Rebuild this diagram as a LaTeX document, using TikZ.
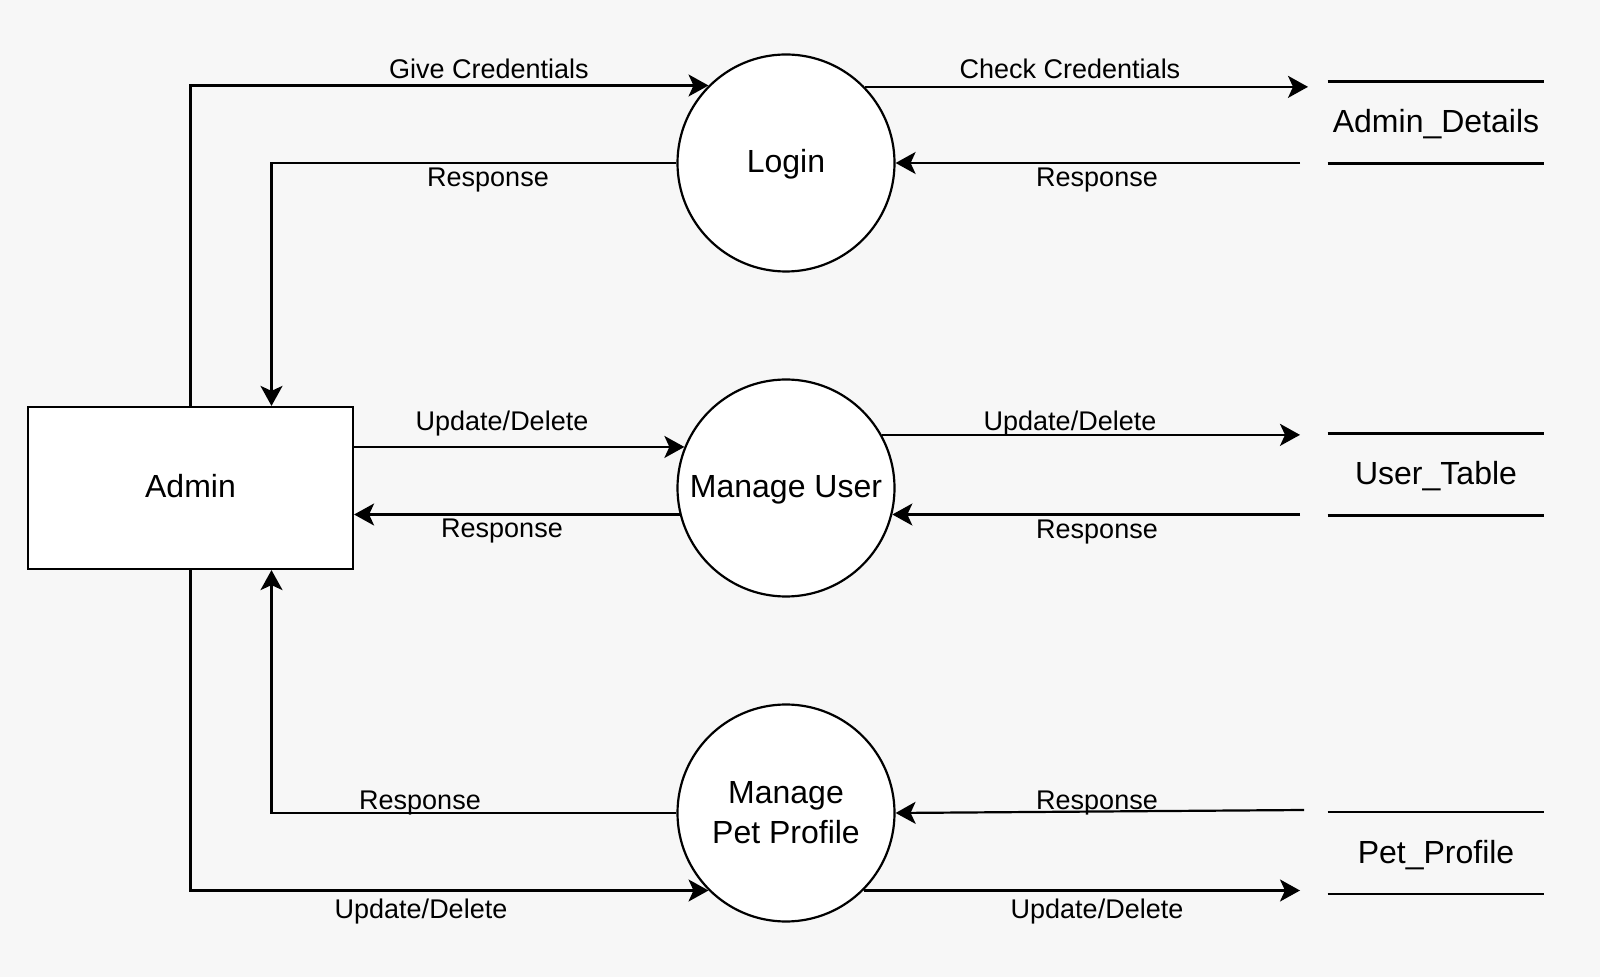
\documentclass[tikz,border=0pt]{standalone}
\usepackage{fontspec}
\setmainfont{Liberation Sans}
\usetikzlibrary{arrows.meta,calc}
\definecolor{bg}{HTML}{F7F7F7}
\begin{document}
\begin{tikzpicture}[x=0.5pt,y=-0.5pt,
  flow/.style={line width=1.1pt,-{Stealth[length=10pt,width=11pt,inset=2.5pt]}},
  proc/.style={circle,draw,line width=1.1pt,fill=white,minimum size=108.5pt,inner sep=0pt,
    font=\fontsize{16}{20}\selectfont,align=center},
  oneline/.style={text height=12pt,text depth=2pt},
  ent/.style={rectangle,draw,line width=1.1pt,fill=white,minimum width=162.5pt,minimum height=81pt,
    inner sep=0pt,font=\fontsize{16}{20}\selectfont},
  store/.style={minimum width=108pt,minimum height=40.5pt,inner sep=0pt,font=\fontsize{16}{20}\selectfont},
  storeline/.style={line width=1.35pt},
  lbl/.style={font=\fontsize{13.5}{16}\selectfont,anchor=base,inner sep=0pt}]
\fill[bg] (0,0) rectangle (1600,977);
\useasboundingbox (0,0) rectangle (1600,977);

\node[ent,oneline] (admin) at (190.5,488) {Admin};
\node[proc,oneline] (login) at (786,163) {Login};
\node[proc,oneline] (mu) at (786,488) {Manage User};
\node[proc] (pet) at (786,813) {Manage\\Pet Profile};
\node[store,oneline] (ad) at (1436,122.5) {Admin\_Details};
\node[store,oneline] (ut) at (1436,474.5) {User\_Table};
\node[store,oneline] (pp) at (1436,853) {Pet\_Profile};
\foreach \s in {ad,ut,pp}{
  \draw[storeline] (\s.north west) -- (\s.north east) (\s.south west) -- (\s.south east);}

\coordinate (adIn) at (1308,87);
\coordinate (adOut) at (1300,163);
\coordinate (utIn) at (1300,434);
\coordinate (utOut) at (1300,515);
\coordinate (ppIn) at (1304,810);
\coordinate (ppOut) at (1300,890);

% Login
\draw[flow] (admin.north) |- (login.135.5);
\draw[flow] (login.west) -| ($(admin.north)+(81,0)$);
\draw[flow] (login.44.5) -- (login.44.5 -| adIn);
\draw[flow] (adOut) -- (login.east);
% Manage User
\draw[flow] (admin.east |- mu.158) -- (mu.158);
\draw[flow] (mu.194.3) -- (mu.194.3 -| admin.east);
\draw[flow] (mu.29.7) -- (mu.29.7 -| utIn);
\draw[flow] (mu.-14.3 -| utOut) -- (mu.-14.3);
% Manage Pet Profile
\draw[flow] (pet.west) -| ($(admin.south)+(81,0)$);
\draw[flow] (admin.south) |- (pet.225.5);
\draw[flow] (ppIn) -- (pet.east);
\draw[flow] (pet.-45.5) -- (pet.-45.5 -| ppOut);

% labels
\node[lbl] (l1) at (489,79) {Give Credentials};
\node[lbl] (l2) at (488,187) {Response};
\node[lbl] (l3) at (1070,79) {Check Credentials};
\node[lbl] (l4) at (1097,187) {Response};
\node[lbl] (l5) at (502,431) {Update/Delete};
\node[lbl] (l6) at (502,538) {Response};
\node[lbl] (l7) at (1070,431) {Update/Delete};
\node[lbl] (l8) at (1097,539) {Response};
\node[lbl] (l9) at (420,809) {Response};
\node[lbl] (l10) at (421,918) {Update/Delete};
\node[lbl] (l11) at (1097,809) {Response};
\node[lbl] (l12) at (1097,918) {Update/Delete};
\end{tikzpicture}
\end{document}
